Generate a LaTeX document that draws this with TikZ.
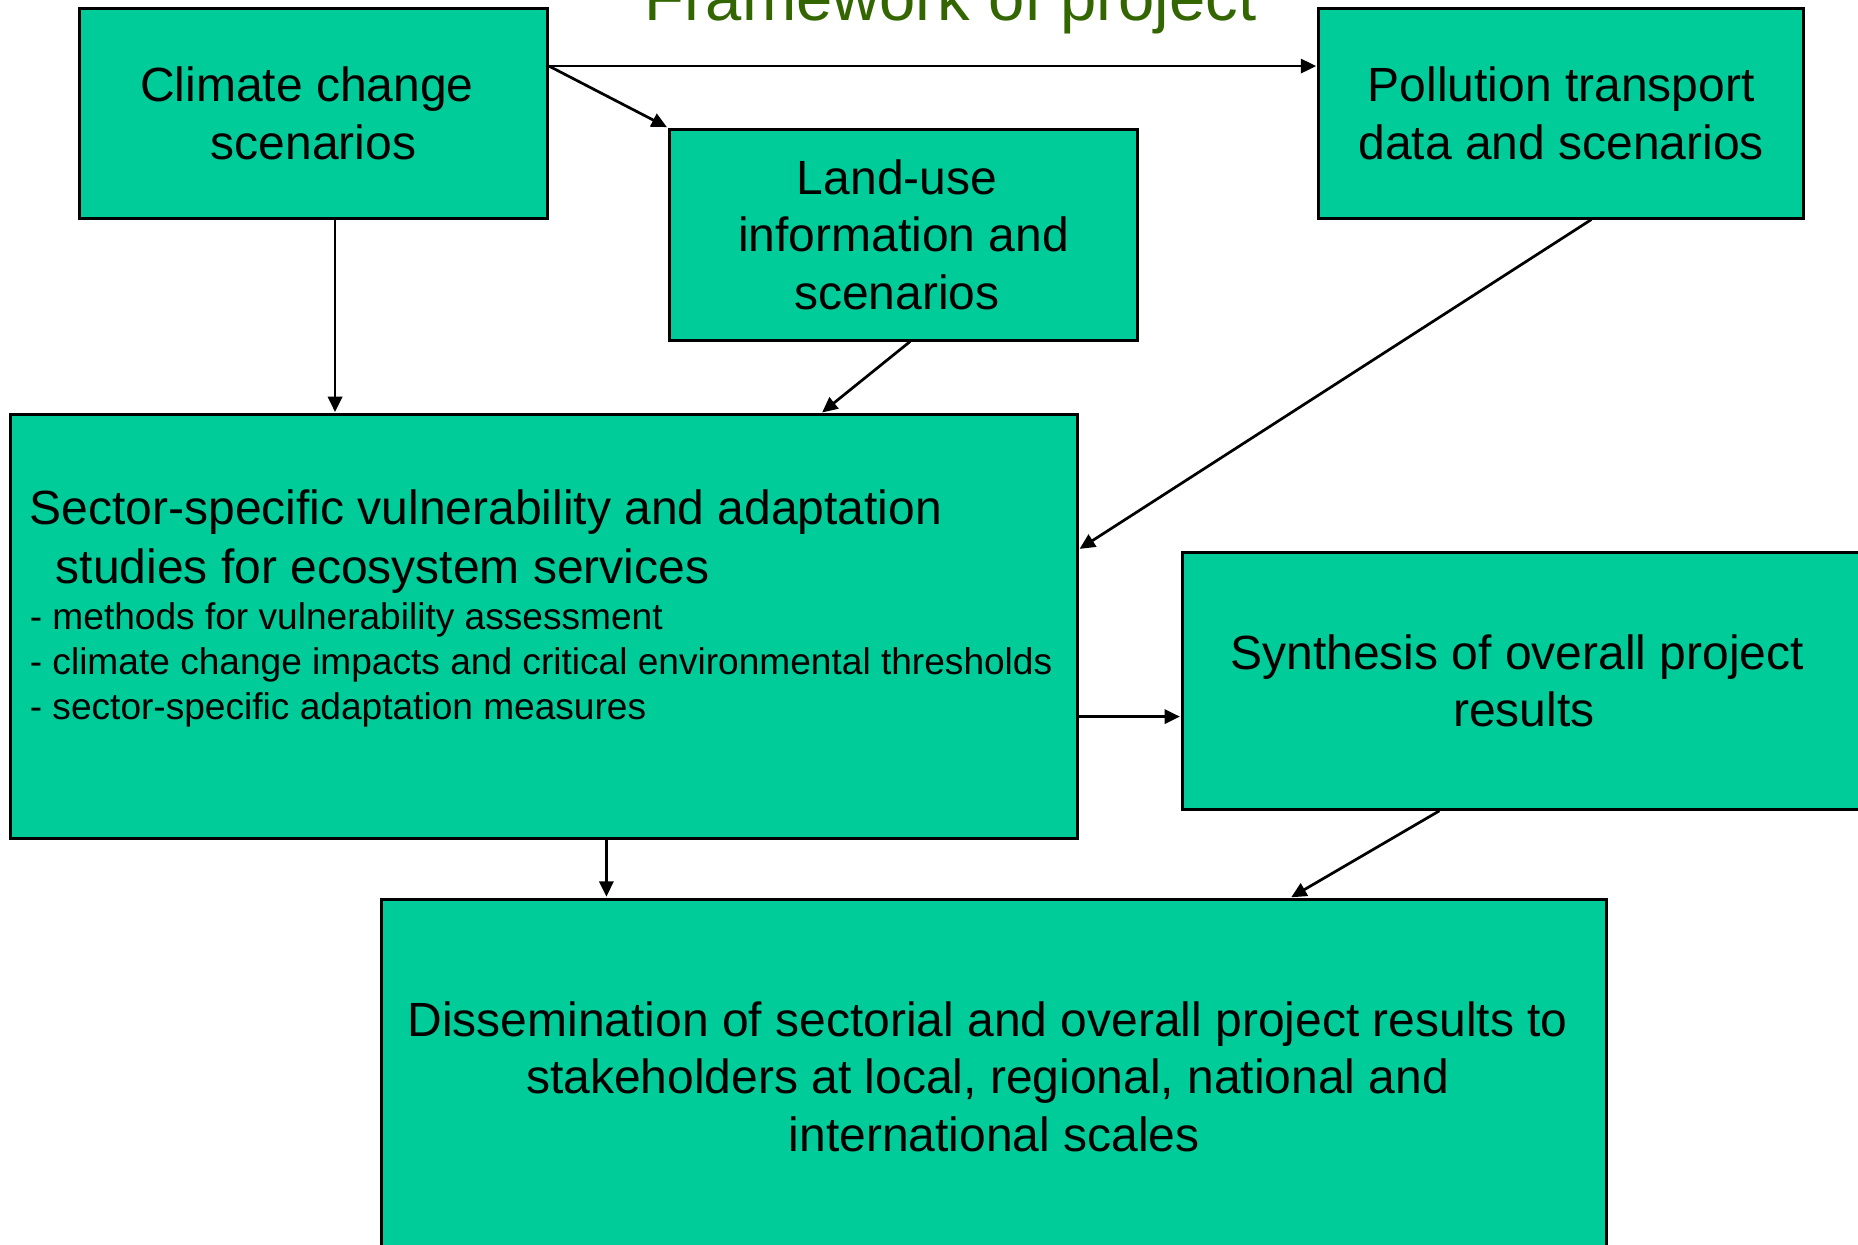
\documentclass[tikz,border=0pt]{standalone}
\usepackage{fontspec}
\setmainfont{Liberation Sans}
\usetikzlibrary{arrows.meta,calc}
\definecolor{boxgreen}{RGB}{0,204,153}
\definecolor{titlegreen}{RGB}{51,102,0}
\newcommand{\tsp}{\hspace*{11pt}}
\begin{document}
\begin{tikzpicture}[x=1pt,y=-1pt,
  box/.style={draw=black,line width=2.5pt,fill=boxgreen,rectangle,inner sep=0pt,
    align=center,font=\fontsize{40.5}{48.5}\selectfont},
  bigline/.style={inner sep=0pt,anchor=base west,font=\fontsize{40.5}{48.5}\selectfont},
  smallline/.style={inner sep=0pt,anchor=base west,font=\fontsize{31.3}{38}\selectfont},
  flow/.style={line width=2.3pt,-{Triangle[length=13pt,width=12pt]},shorten >=1pt}]
\useasboundingbox (0,0) rectangle (1568,1050);
\clip (0,0) rectangle (1568,1050);
\fill[white] (0,0) rectangle (1568,1050);

% title
\node[inner sep=0pt,anchor=base,text=titlegreen,font=\fontsize{55}{66}\selectfont]
  (title) at (802,17) {Framework of project};

% boxes
\node[box,minimum width=395pt,minimum height=177pt] (climate) at (264.5,95.5)
  {Climate change\tsp\\scenarios};
\node[box,minimum width=395pt,minimum height=178pt] (landuse) at (762.5,198)
  {Land-use\tsp\\information and\\scenarios\tsp};
\node[box,minimum width=409pt,minimum height=177pt] (pollution) at (1317.5,95.5)
  {Pollution transport\\data and scenarios};
\node[box,minimum width=900pt,minimum height=358pt] (sector) at (459,529) {};
\node[box,minimum width=576pt,minimum height=217pt] (synthesis) at (1286,574.5)
  {Synthesis of overall project\tsp\\results};
\node[box,minimum width=1034pt,minimum height=299pt] (dissem) at (839,908.5)
  {Dissemination of sectorial and overall project results to\tsp\\stakeholders at local, regional, national and\tsp\tsp\\international scales};

% sector box text
\node[bigline] (sec1) at (25,443) {Sector-specific vulnerability and adaptation};
\node[bigline] (sec2) at (47,492) {studies for ecosystem services};
\node[smallline] (sec3) at (25,531) {- methods for vulnerability assessment};
\node[smallline] (sec4) at (25,569) {- climate change impacts and critical environmental thresholds};
\node[smallline] (sec5) at (25,607) {- sector-specific adaptation measures};

% connectors
\coordinate (cfork) at ([yshift=-50pt]climate.north east);
\draw[flow] (cfork) -- (cfork -| pollution.west);
\draw[flow] (cfork) -- (landuse.north west);
\coordinate (cdown) at ([xshift=217pt]climate.south west);
\draw[flow] (cdown) -- (cdown |- sector.north);
\coordinate (ldown) at ([xshift=5.5pt]landuse.south);
\coordinate (lend) at ([xshift=234pt]sector.north);
\draw[flow] (ldown) -- (lend);
\coordinate (pdown) at ([xshift=25.5pt]pollution.south);
\coordinate (pend) at ([yshift=-115pt]sector.north east);
\draw[flow] (pdown) -- (pend);
\coordinate (sright) at ([yshift=-256pt]sector.north east);
\draw[flow] (sright) -- (sright -| synthesis.west);
\coordinate (sdown) at ([xshift=504pt]sector.south west);
\draw[flow] (sdown) -- (sdown |- dissem.north);
\coordinate (ydown) at ([xshift=218pt]synthesis.south west);
\coordinate (yend) at ([xshift=768pt]dissem.north west);
\draw[flow] (ydown) -- (yend);
\end{tikzpicture}
\end{document}
